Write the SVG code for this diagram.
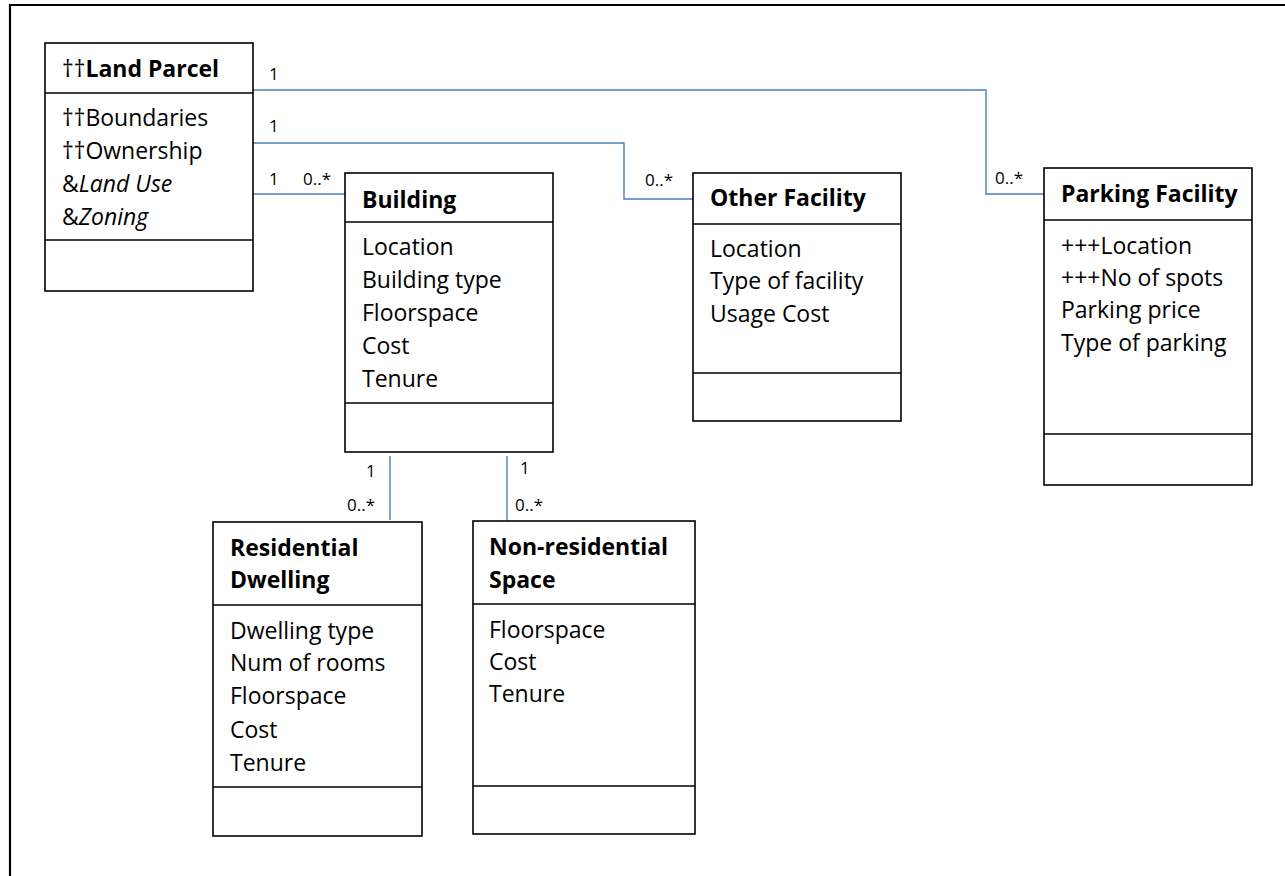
<svg xmlns="http://www.w3.org/2000/svg" width="1285" height="876" viewBox="0 0 1285 876">
<style>
.box{fill:#fff;stroke:#000;stroke-width:1.6}
.div{stroke:#000;stroke-width:1.6}
.t{font-family:"Open Sans","Liberation Sans",sans-serif;font-size:23px;fill:#000}
.b{font-weight:bold}
.n{font-weight:normal}
.i{font-style:italic}
.lbl{font-family:"Open Sans","Liberation Sans",sans-serif;font-size:17px;fill:#000}
.c{fill:none;stroke:#4a7ebb;stroke-width:1.4}
</style>
<rect width="1285" height="876" fill="#fff"/>
<path d="M10 876 V5 H1285" fill="none" stroke="#000" stroke-width="2.2"/>
<g id="connectors">
<path class="c" d="M253 90 H986 V194 H1044"/>
<path class="c" d="M253 143 H624 V199 H693"/>
<path class="c" d="M253 194 H345"/>
<path class="c" d="M390 456 V520"/>
<path class="c" d="M507 456 V521"/>
<text class="lbl" x="269" y="80">1</text>
<text class="lbl" x="269" y="132">1</text>
<text class="lbl" x="269" y="185">1</text>
<text class="lbl" x="303" y="185">0..*</text>
<text class="lbl" x="645" y="186">0..*</text>
<text class="lbl" x="995" y="184">0..*</text>
<text class="lbl" x="366" y="477">1</text>
<text class="lbl" x="347" y="511">0..*</text>
<text class="lbl" x="520" y="474">1</text>
<text class="lbl" x="515" y="511">0..*</text>
</g>
<g id="land-parcel">
<rect class="box" x="45" y="43" width="208" height="248"/>
<line class="div" x1="45" y1="93" x2="253" y2="93"/>
<line class="div" x1="45" y1="240" x2="253" y2="240"/>
<text class="t b" x="62" y="77"><tspan class="n">††</tspan>Land Parcel</text>
<text class="t" x="62" y="126">††Boundaries</text>
<text class="t" x="62" y="159">††Ownership</text>
<text class="t" x="62" y="192">&amp;<tspan class="i">Land Use</tspan></text>
<text class="t" x="62" y="225">&amp;<tspan class="i">Zoning</tspan></text>
</g>
<g id="building">
<rect class="box" x="345" y="173" width="208" height="279"/>
<line class="div" x1="345" y1="222" x2="553" y2="222"/>
<line class="div" x1="345" y1="403" x2="553" y2="403"/>
<text class="t b" x="362" y="208">Building</text>
<text class="t" x="362" y="255">Location</text>
<text class="t" x="362" y="288">Building type</text>
<text class="t" x="362" y="321">Floorspace</text>
<text class="t" x="362" y="354">Cost</text>
<text class="t" x="362" y="387">Tenure</text>
</g>
<g id="other-facility">
<rect class="box" x="693" y="173" width="208" height="248"/>
<line class="div" x1="693" y1="224" x2="901" y2="224"/>
<line class="div" x1="693" y1="373" x2="901" y2="373"/>
<text class="t b" x="710" y="206">Other Facility</text>
<text class="t" x="710" y="257">Location</text>
<text class="t" x="710" y="289">Type of facility</text>
<text class="t" x="710" y="322">Usage Cost</text>
</g>
<g id="parking-facility">
<rect class="box" x="1044" y="168" width="208" height="317"/>
<line class="div" x1="1044" y1="220" x2="1252" y2="220"/>
<line class="div" x1="1044" y1="434" x2="1252" y2="434"/>
<text class="t b" x="1061" y="202">Parking Facility</text>
<text class="t" x="1061" y="254">+++Location</text>
<text class="t" x="1061" y="286">+++No of spots</text>
<text class="t" x="1061" y="318">Parking price</text>
<text class="t" x="1061" y="351">Type of parking</text>
</g>
<g id="residential-dwelling">
<rect class="box" x="213" y="522" width="209" height="314"/>
<line class="div" x1="213" y1="605" x2="422" y2="605"/>
<line class="div" x1="213" y1="787" x2="422" y2="787"/>
<text class="t b" x="230" y="556">Residential</text>
<text class="t b" x="230" y="588">Dwelling</text>
<text class="t" x="230" y="639">Dwelling type</text>
<text class="t" x="230" y="671">Num of rooms</text>
<text class="t" x="230" y="704">Floorspace</text>
<text class="t" x="230" y="738">Cost</text>
<text class="t" x="230" y="771">Tenure</text>
</g>
<g id="non-residential-space">
<rect class="box" x="473" y="521" width="222" height="313"/>
<line class="div" x1="473" y1="604" x2="695" y2="604"/>
<line class="div" x1="473" y1="786" x2="695" y2="786"/>
<text class="t b" x="489" y="555">Non-residential</text>
<text class="t b" x="489" y="588">Space</text>
<text class="t" x="489" y="638">Floorspace</text>
<text class="t" x="489" y="670">Cost</text>
<text class="t" x="489" y="702">Tenure</text>
</g>
</svg>
